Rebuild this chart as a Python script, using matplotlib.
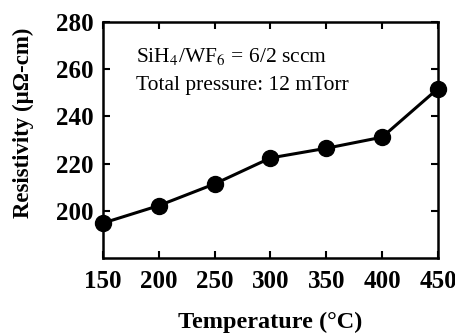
import matplotlib
matplotlib.use("Agg")
import matplotlib.pyplot as plt

temperature = [150, 200, 250, 300, 350, 400, 450]
resistivity = [194.8, 202.2, 211.4, 222.4, 226.5, 231.2, 251.8]
xticks = [150, 200, 250, 300, 350, 400, 450]
yticks = [200, 220, 240, 260, 280]

plt.rcParams['font.family'] = ['Liberation Serif', 'DejaVu Serif']
plt.rcParams['mathtext.fontset'] = 'stix'

fig = plt.figure(figsize=(4.56, 3.35), dpi=100)
ax = fig.add_axes([103/456, 1 - 258/335, (438-103)/456, (258-22)/335])

ax.plot(temperature, resistivity, color='black', lw=2.2, marker='o', ms=11.5,
        clip_on=False, zorder=3)

ax.set_xlim(150, 450)
ax.set_ylim(180, 280)
ax.set_xticks(xticks)
ax.set_yticks(yticks)
ax.tick_params(direction='in', top=True, right=True, length=5, width=1.5,
               labelsize=18)
ax.tick_params(axis='x', pad=9)
ax.tick_params(axis='y', pad=7)
for lab in ax.get_xticklabels() + ax.get_yticklabels():
    lab.set_fontweight('bold')
for s in ax.spines.values():
    s.set_linewidth(1.8)

ax.set_xlabel('Temperature (°C)', fontsize=17.5, fontweight='bold', labelpad=13)
ax.set_ylabel('Resistivity (\u03bc\u03a9-cm)', fontsize=16.5, fontweight='bold')
ax.yaxis.set_label_coords(-0.205, 0.572)

ax.text(0.1, 0.83, r'SiH$_4$/WF$_6$ = 6/2 sccm', transform=ax.transAxes, fontsize=15.5)
ax.text(0.1, 0.71, 'Total pressure: 12 mTorr', transform=ax.transAxes, fontsize=15.5)

fig.savefig('out.png', dpi=100)
